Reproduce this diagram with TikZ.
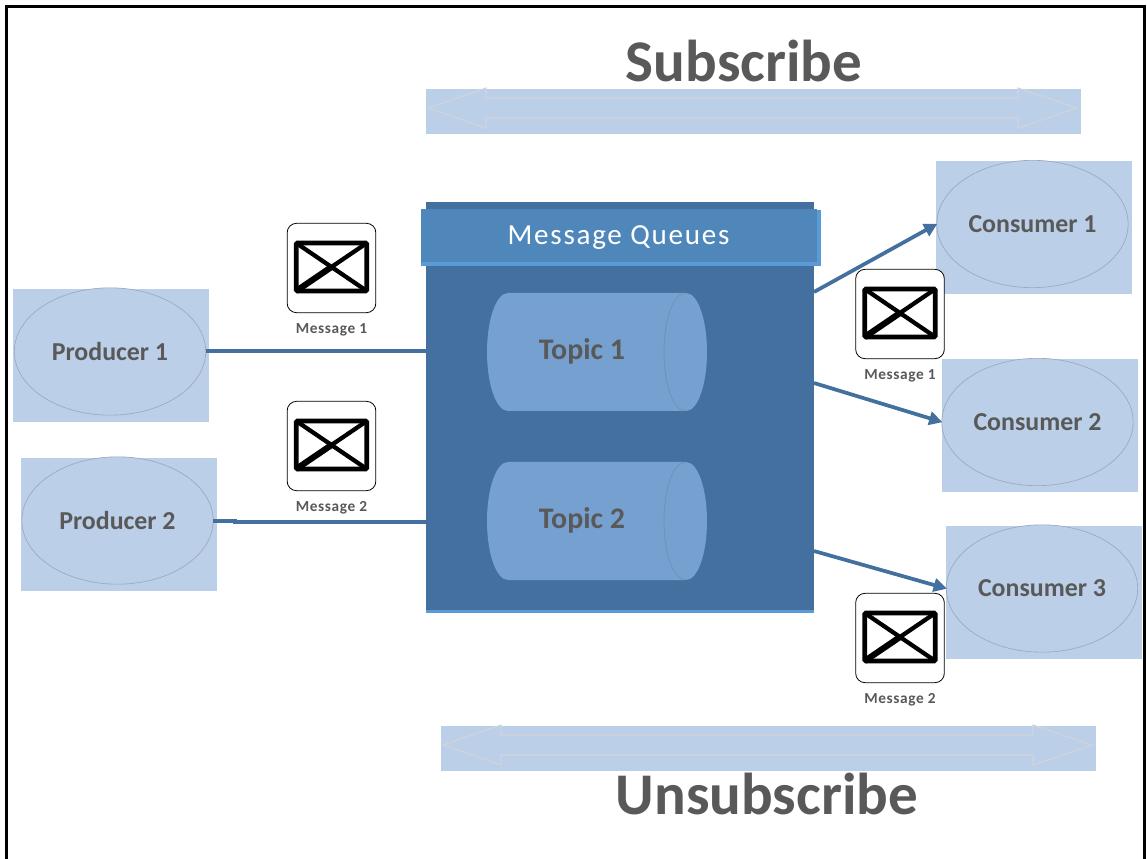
\documentclass[tikz,border=0pt]{standalone}
\usepackage{fontspec}
\setmainfont{Carlito}
\usetikzlibrary{arrows.meta,shapes.geometric}
\definecolor{paleblue}{HTML}{BBCFE8}
\definecolor{darkblue}{HTML}{43709E}
\definecolor{headblue}{HTML}{4F87BB}
\definecolor{edgeblue}{HTML}{5B9BD5}
\definecolor{cylblue}{HTML}{76A0CF}
\definecolor{cyledge}{HTML}{6A90BC}
\definecolor{txtgrey}{HTML}{595959}
\definecolor{ellline}{HTML}{9AA9C0}
\definecolor{arrline}{HTML}{D2D4D9}
\tikzset{
  x=0.75pt,y=-0.75pt,
  base/.style={inner sep=0pt,outer sep=0pt},
  backing/.style={base,rectangle,fill=paleblue,minimum width=147pt,minimum height=99.75pt},
  actor/.style={base,ellipse,draw=ellline,line width=0.5pt,fill=paleblue,minimum width=143.5pt,minimum height=95.5pt,
     text=txtgrey,font=\fontsize{19.4}{22}\selectfont\bfseries},
  conn/.style={draw=darkblue,line width=3pt},
  arrowconn/.style={draw=darkblue,line width=2.8pt,-{Triangle[length=10pt,width=10pt]},shorten >=-0.5pt},
  msgbox/.style={base,rectangle,rounded corners=7pt,draw=black,line width=0.6pt,fill=white,minimum width=66.5pt,minimum height=67pt},
  envelope/.style={base,rectangle,rounded corners=1pt,draw=black,line width=3.6pt,fill=white,minimum width=53pt,minimum height=36pt},
  envline/.style={draw=black,line width=3.2pt},
  envheavy/.style={draw=black,line width=4.6pt},
  msglabel/.style={base,text=txtgrey,font=\fontsize{11.5}{14}\selectfont\bfseries\addfontfeatures{LetterSpace=4}},
  banner/.style={base,rectangle,fill=paleblue,minimum width=491.25pt,minimum height=33.75pt},
  dblarrow/.style={draw=arrline,line width=0.8pt},
  bigtitle/.style={base,text=txtgrey,font=\fontsize{44.3}{50}\selectfont\bfseries},
  topiclabel/.style={base,text=txtgrey,font=\fontsize{22.4}{26}\selectfont\bfseries},
  cyl/.style={fill=cylblue},
  cylinner/.style={draw=cyledge,line width=0.5pt},
}
\newcommand{\msgicon}[4]{% name, cx, box cy, label text
  \node[msgbox] (#1box) at (#2,#3) {};
  \node[envelope] (#1env) at (#2,#3-1) {};
  \draw[envline] (#1env.north west) -- (#1env.south east);
  \draw[envline] (#1env.north east) -- (#1env.center);
  \draw[envheavy] (#1env.center) -- (#1env.south west);
  \node[msglabel] (#1lab) at (#2,#3+62) {#4};
}
\newcommand{\dbl}[3]{% left x, center y, right x
  \draw[dblarrow] (#1,#2) -- (#1+58,#2-20) -- (#1+58,#2-10) -- (#3-59,#2-10) -- (#3-59,#2-20)
    -- (#3,#2) -- (#3-59,#2+20) -- (#3-59,#2+10) -- (#1+58,#2+10) -- (#1+58,#2+20) -- cycle;
}
\newcommand{\topic}[3]{% name, top y, text
  \fill[cyl] (508,#2) -- (686,#2) .. controls (698,#2) and (707,#2+27) .. (707,#2+59)
     .. controls (707,#2+91) and (698,#2+118) .. (686,#2+118) -- (508,#2+118)
     .. controls (496,#2+118) and (487,#2+91) .. (487,#2+59)
     .. controls (487,#2+27) and (496,#2) .. (508,#2) -- cycle;
  \draw[cylinner] (686,#2) .. controls (673,#2) and (664,#2+27) .. (664,#2+59)
     .. controls (664,#2+91) and (673,#2+118) .. (686,#2+118);
  \node[topiclabel] (#1) at (582,#2+58.5) {#3};
}
\begin{document}
\begin{tikzpicture}
\useasboundingbox (0,0) rectangle (1147,859);
\fill[white] (0,0) rectangle (1147,859);
\draw[black,line width=1.9pt] (6.5,859) -- (6.5,6.5) -- (1144.5,6.5) -- (1144.5,859);

% banners
\node[banner] (subbar) at (753.5,111.5) {};
\dbl{428}{108}{1077}
\node[bigtitle] (subtitle) at (744,61) {Subscribe};
\node[banner] (unsubbar) at (768.5,748.5) {};
\dbl{443}{745}{1092}
\node[bigtitle] (unsubtitle) at (767,794) {Unsubscribe};

% central block
\node[base,rectangle,fill=darkblue,minimum width=291pt,minimum height=308.25pt] (main) at (620,407.5) {};
\fill[edgeblue] (main.south west) ++(0,-3) rectangle (main.south east);
\fill[edgeblue] (421,210) rectangle (821,266);
\node[base,rectangle,fill=headblue,minimum width=297pt,minimum height=39.75pt] (header) at (619,236) {};
\node[base,text=white,font=\fontsize{21.8}{24}\selectfont\addfontfeatures{LetterSpace=6}] (headertext) at (618.5,237.5) {Message Queues};
\topic{topicone}{293}{Topic 1}
\topic{topictwo}{462}{Topic 2}

% producers
\node[backing] (pr1) at (111,355.5) {};
\node[actor] (p1) at (110,351.5) {Producer 1};
\node[backing] (pr2) at (118.5,524.5) {};
\node[actor] (p2) at (117.5,520.5) {Producer 2};

% consumers
\node[backing] (cr1) at (1033.5,227.5) {};
\node[actor] (c1) at (1032.5,224) {Consumer 1};
\node[backing] (cr2) at (1040,425.5) {};
\node[actor] (c2) at (1037.5,422) {Consumer 2};
\node[backing] (cr3) at (1043.5,592) {};
\node[actor] (c3) at (1042,588.5) {Consumer 3};

% connectors
\draw[conn] (p1.east) -- (p1.east -| main.west);
\coordinate (bend) at (235,521.5);
\draw[conn] (p2.east) -- (p2.east -| bend) |- (bend -| main.west);
\coordinate (outa) at (814,292);
\coordinate (outb) at (814,383);
\coordinate (outc) at (814,551);
\draw[arrowconn] (outa) -- (c1.west);
\draw[arrowconn] (outb) -- (c2.west);
\draw[arrowconn] (outc) -- (c3.west);

% message icons
\msgicon{ma}{331.5}{268}{Message 1}
\msgicon{mb}{331.5}{446}{Message 2}
\msgicon{mc}{900}{314}{Message 1}
\msgicon{md}{900}{638}{Message 2}
\end{tikzpicture}
\end{document}
